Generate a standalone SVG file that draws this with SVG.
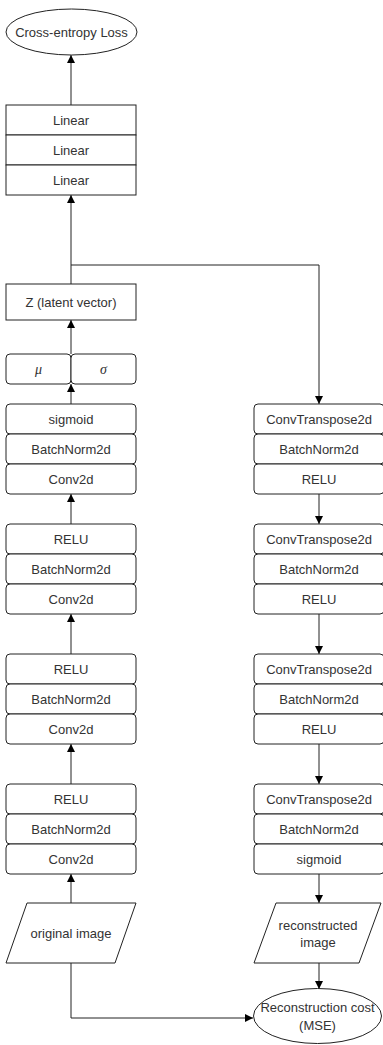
<svg xmlns="http://www.w3.org/2000/svg" width="383" height="1045" viewBox="0 0 383 1045">
<style>
.box{fill:#fff;stroke:#222;stroke-width:1}
.t{font-family:"Liberation Sans",Arial,sans-serif;font-size:13px;fill:#333;text-anchor:middle;dominant-baseline:central}
.m{font-family:"Liberation Serif","Times New Roman",serif;font-style:italic;font-size:14px;fill:#333;text-anchor:middle;dominant-baseline:central}
.c{fill:none;stroke:#222;stroke-width:1}
</style>
<defs>
<marker id="arr" viewBox="0 0 10 10" refX="10" refY="5" markerWidth="8" markerHeight="8" markerUnits="userSpaceOnUse" orient="auto">
<path d="M0,0 L10,5 L0,10 z" fill="#000"/>
</marker>
</defs>
<rect width="383" height="1045" fill="#fff"/>
<g id="connectors">
<line class="c" x1="71" y1="105" x2="71" y2="55" marker-end="url(#arr)"/>
<line class="c" x1="71" y1="284" x2="71" y2="195" marker-end="url(#arr)"/>
<polyline class="c" points="71,265 319,265 319,404" marker-end="url(#arr)"/>
<line class="c" x1="71" y1="354" x2="71" y2="320" marker-end="url(#arr)"/>
<line class="c" x1="71" y1="404" x2="71" y2="384" marker-end="url(#arr)"/>
<line class="c" x1="71" y1="524" x2="71" y2="494" marker-end="url(#arr)"/>
<line class="c" x1="71" y1="654" x2="71" y2="614" marker-end="url(#arr)"/>
<line class="c" x1="71" y1="784" x2="71" y2="744" marker-end="url(#arr)"/>
<line class="c" x1="71" y1="903" x2="71" y2="874" marker-end="url(#arr)"/>
<line class="c" x1="319" y1="494" x2="319" y2="524" marker-end="url(#arr)"/>
<line class="c" x1="319" y1="614" x2="319" y2="654" marker-end="url(#arr)"/>
<line class="c" x1="319" y1="744" x2="319" y2="784" marker-end="url(#arr)"/>
<line class="c" x1="319" y1="874" x2="319" y2="903" marker-end="url(#arr)"/>
<line class="c" x1="319" y1="963" x2="319" y2="989" marker-end="url(#arr)"/>
<polyline class="c" points="71,963 71,1018 253,1018" marker-end="url(#arr)"/>
</g>
<g id="ce-loss"><ellipse class="box" cx="71.5" cy="32" rx="65.5" ry="23"/><text class="t" x="71.5" y="32">Cross-entropy Loss</text></g>
<g id="linear1"><rect class="box" x="6" y="105" width="130" height="30"/><text class="t" x="71" y="120">Linear</text></g>
<g id="linear2"><rect class="box" x="6" y="135" width="130" height="30"/><text class="t" x="71" y="150">Linear</text></g>
<g id="linear3"><rect class="box" x="6" y="165" width="130" height="30"/><text class="t" x="71" y="180">Linear</text></g>
<g id="z"><rect class="box" x="6" y="284" width="130" height="36"/><text class="t" x="71" y="302">Z (latent vector)</text></g>
<g id="mu"><rect class="box" x="6" y="354" width="65" height="30" rx="4"/><text class="m" x="38.5" y="369">μ</text></g>
<g id="sigma"><rect class="box" x="71" y="354" width="65" height="30" rx="4"/><text class="m" x="103.5" y="369">σ</text></g>
<g id="enc-sigmoid"><rect class="box" x="6" y="404" width="130" height="30" rx="4"/><text class="t" x="71" y="419">sigmoid</text></g>
<g id="enc-bn4"><rect class="box" x="6" y="434" width="130" height="30" rx="4"/><text class="t" x="71" y="449">BatchNorm2d</text></g>
<g id="enc-conv4"><rect class="box" x="6" y="464" width="130" height="30" rx="4"/><text class="t" x="71" y="479">Conv2d</text></g>
<g id="enc-relu3"><rect class="box" x="6" y="524" width="130" height="30" rx="4"/><text class="t" x="71" y="539">RELU</text></g>
<g id="enc-bn3"><rect class="box" x="6" y="554" width="130" height="30" rx="4"/><text class="t" x="71" y="569">BatchNorm2d</text></g>
<g id="enc-conv3"><rect class="box" x="6" y="584" width="130" height="30" rx="4"/><text class="t" x="71" y="599">Conv2d</text></g>
<g id="enc-relu2"><rect class="box" x="6" y="654" width="130" height="30" rx="4"/><text class="t" x="71" y="669">RELU</text></g>
<g id="enc-bn2"><rect class="box" x="6" y="684" width="130" height="30" rx="4"/><text class="t" x="71" y="699">BatchNorm2d</text></g>
<g id="enc-conv2"><rect class="box" x="6" y="714" width="130" height="30" rx="4"/><text class="t" x="71" y="729">Conv2d</text></g>
<g id="enc-relu1"><rect class="box" x="6" y="784" width="130" height="30" rx="4"/><text class="t" x="71" y="799">RELU</text></g>
<g id="enc-bn1"><rect class="box" x="6" y="814" width="130" height="30" rx="4"/><text class="t" x="71" y="829">BatchNorm2d</text></g>
<g id="enc-conv1"><rect class="box" x="6" y="844" width="130" height="30" rx="4"/><text class="t" x="71" y="859">Conv2d</text></g>
<g id="original-image"><polygon class="box" points="27,903 136,903 115,963 6,963"/><text class="t" x="71" y="933">original image</text></g>
<g id="dec-ct1"><rect class="box" x="254" y="404" width="130" height="30" rx="4"/><text class="t" x="319" y="419">ConvTranspose2d</text></g>
<g id="dec-bn1"><rect class="box" x="254" y="434" width="130" height="30" rx="4"/><text class="t" x="319" y="449">BatchNorm2d</text></g>
<g id="dec-relu1"><rect class="box" x="254" y="464" width="130" height="30" rx="4"/><text class="t" x="319" y="479">RELU</text></g>
<g id="dec-ct2"><rect class="box" x="254" y="524" width="130" height="30" rx="4"/><text class="t" x="319" y="539">ConvTranspose2d</text></g>
<g id="dec-bn2"><rect class="box" x="254" y="554" width="130" height="30" rx="4"/><text class="t" x="319" y="569">BatchNorm2d</text></g>
<g id="dec-relu2"><rect class="box" x="254" y="584" width="130" height="30" rx="4"/><text class="t" x="319" y="599">RELU</text></g>
<g id="dec-ct3"><rect class="box" x="254" y="654" width="130" height="30" rx="4"/><text class="t" x="319" y="669">ConvTranspose2d</text></g>
<g id="dec-bn3"><rect class="box" x="254" y="684" width="130" height="30" rx="4"/><text class="t" x="319" y="699">BatchNorm2d</text></g>
<g id="dec-relu3"><rect class="box" x="254" y="714" width="130" height="30" rx="4"/><text class="t" x="319" y="729">RELU</text></g>
<g id="dec-ct4"><rect class="box" x="254" y="784" width="130" height="30" rx="4"/><text class="t" x="319" y="799">ConvTranspose2d</text></g>
<g id="dec-bn4"><rect class="box" x="254" y="814" width="130" height="30" rx="4"/><text class="t" x="319" y="829">BatchNorm2d</text></g>
<g id="dec-sigmoid"><rect class="box" x="254" y="844" width="130" height="30" rx="4"/><text class="t" x="319" y="859">sigmoid</text></g>
<g id="reconstructed-image"><polygon class="box" points="276,903 381,903 359,963 254,963"/><text class="t" x="318" y="925">reconstructed</text><text class="t" x="318" y="942">image</text></g>
<g id="recon-cost"><ellipse class="box" cx="317.5" cy="1016" rx="64" ry="27.5"/><text class="t" x="317.5" y="1007">Reconstruction cost</text><text class="t" x="317.5" y="1025">(MSE)</text></g>
</svg>
